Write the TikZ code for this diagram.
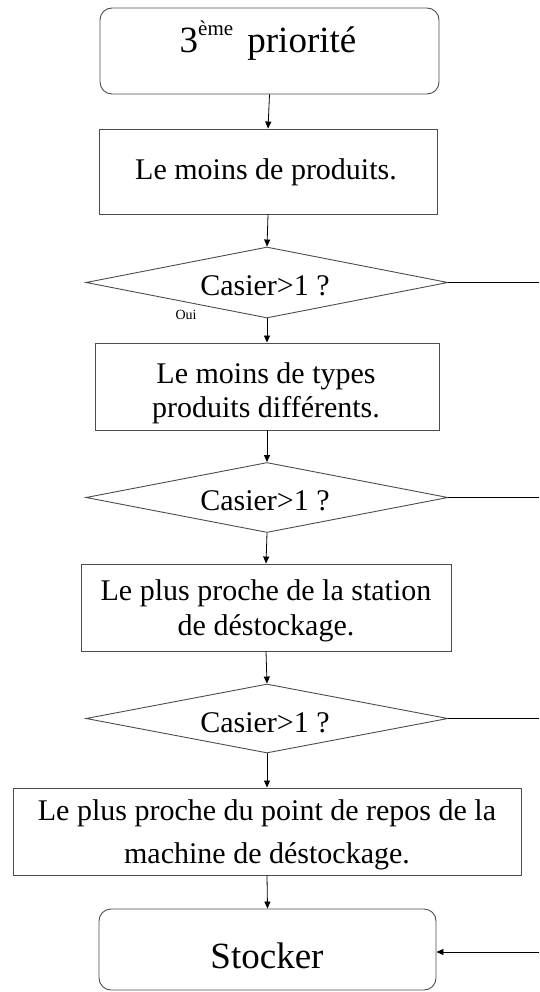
\documentclass[tikz,border=0pt]{standalone}
\usepackage{fontspec}
\setmainfont{Liberation Serif}
\usetikzlibrary{arrows.meta,shapes.geometric}

\begin{document}
\begin{tikzpicture}[x=1pt,y=-1pt,
  boxline/.style={draw=black!70, line width=0.9pt, inner sep=0pt},
  stepbox/.style={boxline, rectangle},
  roundbox/.style={boxline, rectangle, rounded corners=12pt},
  testbox/.style={boxline, diamond},
  arr/.style={draw=black, line width=0.8pt, -{Triangle[length=7pt,width=6pt]}},
  plainline/.style={draw=black, line width=0.8pt},
  lbl/.style={anchor=base, inner sep=0pt, font=\fontsize{30}{36}\selectfont},
  biglbl/.style={anchor=base, inner sep=0pt, font=\fontsize{37}{44}\selectfont},
  tiny/.style={inner sep=0pt, font=\fontsize{14}{16}\selectfont}
]
\useasboundingbox (0,0) rectangle (539,992);

% shapes
\node[roundbox, minimum width=339pt, minimum height=86pt] (top) at (269.5,51) {};
\node[stepbox, minimum width=338pt, minimum height=85pt] (b1) at (268,171.5) {};
\node[testbox, minimum width=362pt, minimum height=71pt] (d1) at (267,282.5) {};
\node[stepbox, minimum width=344pt, minimum height=87pt] (b2) at (267,386.5) {};
\node[testbox, minimum width=362pt, minimum height=70pt] (d2) at (267,497.5) {};
\node[stepbox, minimum width=370pt, minimum height=87pt] (b3) at (266,607.5) {};
\node[testbox, minimum width=362pt, minimum height=69pt] (d3) at (267,718.5) {};
\node[stepbox, minimum width=508pt, minimum height=87pt] (b4) at (267,831.5) {};
\node[roundbox, minimum width=337pt, minimum height=81pt] (stock) at (267.5,949.5) {};

% texts
\node[biglbl] (ttop) at (268,53)
  {3\raisebox{17pt}{\fontsize{21}{24}\selectfont ème}\hspace{5pt} priorité};
\node[lbl] (tb1) at (266,180) {Le moins de produits.};
\node[lbl] (td1) at (265,295) {Casier>1 ?};
\node[tiny] (oui) at (186,315) {Oui};
\node[lbl] (tb2a) at (266,383) {Le moins de types};
\node[lbl] (tb2b) at (266,417) {produits différents.};
\node[lbl] (td2) at (265,510) {Casier>1 ?};
\node[lbl] (tb3a) at (266,600) {Le plus proche de la station};
\node[lbl] (tb3b) at (266,635) {de déstockage.};
\node[lbl] (td3) at (265,732) {Casier>1 ?};
\node[lbl] (tb4a) at (267,820) {Le plus proche du point de repos de la};
\node[lbl] (tb4b) at (267,863) {machine de déstockage.};
\node[biglbl] (tstock) at (267,968) {Stocker};

% vertical flow
\draw[arr] (top.south) -- (b1.north);
\draw[arr] (b1.south) -- (d1.north);
\draw[arr] (d1.south) -- (b2.north);
\draw[arr] (b2.south) -- (d2.north);
\draw[arr] (d2.south) -- (b3.north);
\draw[arr] (b3.south) -- (d3.north);
\draw[arr] (d3.south) -- (b4.north);
\draw[arr] (b4.south) -- (stock.north);

% exits to the right
\coordinate (r1) at (539,282.5);
\coordinate (r2) at (539,497.5);
\coordinate (r3) at (539,718.5);
\coordinate (r4) at (539,952);
\draw[plainline] (d1.east) -- (r1);
\draw[plainline] (d2.east) -- (r2);
\draw[plainline] (d3.east) -- (r3);
\draw[arr] (r4) -- (r4 -| stock.east);
\end{tikzpicture}
\end{document}
